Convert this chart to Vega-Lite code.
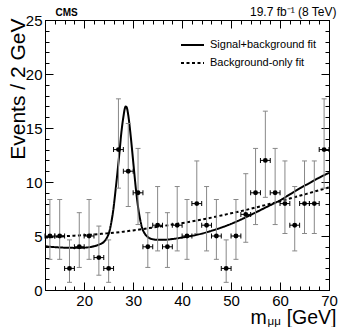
{
  "$schema": "https://vega.github.io/schema/vega-lite/v6.json",
  "width": 284,
  "height": 270,
  "autosize": {"type": "none"},
  "padding": {"left": 45, "top": 20, "right": 9, "bottom": 37},
  "config": {
    "view": {"stroke": "black", "strokeWidth": 1},
    "font": "Liberation Sans",
    "axis": {"grid": false, "domain": false, "tickColor": "black", "tickWidth": 1, "labelColor": "black", "titleColor": "black", "labelFlush": false, "titleFontWeight": "normal", "titleBaseline": "alphabetic"}
  },
  "datasets": {
    "points": [
      {"x": 13, "n": 5, "lo": 2.84, "hi": 8.38, "xlo": 12, "xhi": 14},
      {"x": 15, "n": 5, "lo": 2.84, "hi": 8.38, "xlo": 14, "xhi": 16},
      {"x": 17, "n": 2, "lo": 0.71, "hi": 4.64, "xlo": 16, "xhi": 18},
      {"x": 19, "n": 4, "lo": 2.09, "hi": 7.16, "xlo": 18, "xhi": 20},
      {"x": 21, "n": 5, "lo": 2.84, "hi": 8.38, "xlo": 20, "xhi": 22},
      {"x": 23, "n": 3, "lo": 1.37, "hi": 5.92, "xlo": 22, "xhi": 24},
      {"x": 25, "n": 2, "lo": 0.71, "hi": 4.64, "xlo": 24, "xhi": 26},
      {"x": 27, "n": 13, "lo": 9.43, "hi": 17.7, "xlo": 26, "xhi": 28},
      {"x": 29, "n": 11, "lo": 7.73, "hi": 15.42, "xlo": 28, "xhi": 30},
      {"x": 31, "n": 9, "lo": 6.06, "hi": 13.11, "xlo": 30, "xhi": 32},
      {"x": 33, "n": 4, "lo": 2.09, "hi": 7.16, "xlo": 32, "xhi": 34},
      {"x": 35, "n": 6, "lo": 3.62, "hi": 9.58, "xlo": 34, "xhi": 36},
      {"x": 37, "n": 4, "lo": 2.09, "hi": 7.16, "xlo": 36, "xhi": 38},
      {"x": 39, "n": 6, "lo": 3.62, "hi": 9.58, "xlo": 38, "xhi": 40},
      {"x": 41, "n": 5, "lo": 2.84, "hi": 8.38, "xlo": 40, "xhi": 42},
      {"x": 43, "n": 8, "lo": 5.23, "hi": 11.95, "xlo": 42, "xhi": 44},
      {"x": 45, "n": 6, "lo": 3.62, "hi": 9.58, "xlo": 44, "xhi": 46},
      {"x": 47, "n": 5, "lo": 2.84, "hi": 8.38, "xlo": 46, "xhi": 48},
      {"x": 49, "n": 2, "lo": 0.71, "hi": 4.64, "xlo": 48, "xhi": 50},
      {"x": 51, "n": 5, "lo": 2.84, "hi": 8.38, "xlo": 50, "xhi": 52},
      {"x": 53, "n": 7, "lo": 4.42, "hi": 10.77, "xlo": 52, "xhi": 54},
      {"x": 55, "n": 9, "lo": 6.06, "hi": 13.11, "xlo": 54, "xhi": 56},
      {"x": 57, "n": 12, "lo": 8.58, "hi": 16.56, "xlo": 56, "xhi": 58},
      {"x": 59, "n": 9, "lo": 6.06, "hi": 13.11, "xlo": 58, "xhi": 60},
      {"x": 61, "n": 8, "lo": 5.23, "hi": 11.95, "xlo": 60, "xhi": 62},
      {"x": 63, "n": 6, "lo": 3.62, "hi": 9.58, "xlo": 62, "xhi": 64},
      {"x": 65, "n": 8, "lo": 5.23, "hi": 11.95, "xlo": 64, "xhi": 66},
      {"x": 67, "n": 8, "lo": 5.23, "hi": 11.95, "xlo": 66, "xhi": 68},
      {"x": 69, "n": 13, "lo": 9.43, "hi": 17.7, "xlo": 68, "xhi": 70}
    ],
    "curves": [
      {"fit": "Signal+background fit", "x": 12, "y": 4.05},
      {"fit": "Signal+background fit", "x": 14, "y": 3.97},
      {"fit": "Signal+background fit", "x": 16, "y": 3.92},
      {"fit": "Signal+background fit", "x": 18, "y": 3.9},
      {"fit": "Signal+background fit", "x": 20, "y": 3.92},
      {"fit": "Signal+background fit", "x": 22, "y": 4.05},
      {"fit": "Signal+background fit", "x": 23, "y": 4.2},
      {"fit": "Signal+background fit", "x": 24, "y": 4.45},
      {"fit": "Signal+background fit", "x": 24.6, "y": 4.8},
      {"fit": "Signal+background fit", "x": 25.2, "y": 5.5},
      {"fit": "Signal+background fit", "x": 25.6, "y": 6.4},
      {"fit": "Signal+background fit", "x": 26.0, "y": 7.6},
      {"fit": "Signal+background fit", "x": 26.4, "y": 9.2},
      {"fit": "Signal+background fit", "x": 26.8, "y": 10.9},
      {"fit": "Signal+background fit", "x": 27.2, "y": 12.7},
      {"fit": "Signal+background fit", "x": 27.6, "y": 14.6},
      {"fit": "Signal+background fit", "x": 28.0, "y": 16.0},
      {"fit": "Signal+background fit", "x": 28.3, "y": 16.8},
      {"fit": "Signal+background fit", "x": 28.5, "y": 17.0},
      {"fit": "Signal+background fit", "x": 28.7, "y": 16.9},
      {"fit": "Signal+background fit", "x": 29.0, "y": 16.2},
      {"fit": "Signal+background fit", "x": 29.4, "y": 14.7},
      {"fit": "Signal+background fit", "x": 29.8, "y": 12.9},
      {"fit": "Signal+background fit", "x": 30.2, "y": 11.0},
      {"fit": "Signal+background fit", "x": 30.6, "y": 9.2},
      {"fit": "Signal+background fit", "x": 31.0, "y": 7.7},
      {"fit": "Signal+background fit", "x": 31.4, "y": 6.6},
      {"fit": "Signal+background fit", "x": 31.8, "y": 5.8},
      {"fit": "Signal+background fit", "x": 32.4, "y": 5.2},
      {"fit": "Signal+background fit", "x": 33, "y": 4.9},
      {"fit": "Signal+background fit", "x": 34, "y": 4.7},
      {"fit": "Signal+background fit", "x": 35, "y": 4.65},
      {"fit": "Signal+background fit", "x": 36, "y": 4.65},
      {"fit": "Signal+background fit", "x": 37, "y": 4.67},
      {"fit": "Signal+background fit", "x": 38, "y": 4.72},
      {"fit": "Signal+background fit", "x": 40, "y": 4.86},
      {"fit": "Signal+background fit", "x": 42, "y": 5.02},
      {"fit": "Signal+background fit", "x": 44, "y": 5.22},
      {"fit": "Signal+background fit", "x": 46, "y": 5.48},
      {"fit": "Signal+background fit", "x": 48, "y": 5.78},
      {"fit": "Signal+background fit", "x": 50, "y": 6.12},
      {"fit": "Signal+background fit", "x": 52, "y": 6.52},
      {"fit": "Signal+background fit", "x": 54, "y": 6.95},
      {"fit": "Signal+background fit", "x": 56, "y": 7.4},
      {"fit": "Signal+background fit", "x": 58, "y": 7.85},
      {"fit": "Signal+background fit", "x": 60, "y": 8.3},
      {"fit": "Signal+background fit", "x": 62, "y": 8.85},
      {"fit": "Signal+background fit", "x": 64, "y": 9.4},
      {"fit": "Signal+background fit", "x": 66, "y": 9.9},
      {"fit": "Signal+background fit", "x": 68, "y": 10.4},
      {"fit": "Signal+background fit", "x": 70, "y": 10.85},
      {"fit": "Background-only fit", "x": 12, "y": 4.85},
      {"fit": "Background-only fit", "x": 14, "y": 4.92},
      {"fit": "Background-only fit", "x": 16, "y": 4.98},
      {"fit": "Background-only fit", "x": 18, "y": 5.03},
      {"fit": "Background-only fit", "x": 20, "y": 5.08},
      {"fit": "Background-only fit", "x": 22, "y": 5.14},
      {"fit": "Background-only fit", "x": 24, "y": 5.22},
      {"fit": "Background-only fit", "x": 26, "y": 5.3},
      {"fit": "Background-only fit", "x": 28, "y": 5.4},
      {"fit": "Background-only fit", "x": 30, "y": 5.52},
      {"fit": "Background-only fit", "x": 32, "y": 5.64},
      {"fit": "Background-only fit", "x": 34, "y": 5.78},
      {"fit": "Background-only fit", "x": 36, "y": 5.92},
      {"fit": "Background-only fit", "x": 38, "y": 6.06},
      {"fit": "Background-only fit", "x": 40, "y": 6.2},
      {"fit": "Background-only fit", "x": 42, "y": 6.35},
      {"fit": "Background-only fit", "x": 44, "y": 6.52},
      {"fit": "Background-only fit", "x": 46, "y": 6.7},
      {"fit": "Background-only fit", "x": 48, "y": 6.9},
      {"fit": "Background-only fit", "x": 50, "y": 7.1},
      {"fit": "Background-only fit", "x": 52, "y": 7.3},
      {"fit": "Background-only fit", "x": 54, "y": 7.52},
      {"fit": "Background-only fit", "x": 56, "y": 7.75},
      {"fit": "Background-only fit", "x": 58, "y": 7.98},
      {"fit": "Background-only fit", "x": 60, "y": 8.22},
      {"fit": "Background-only fit", "x": 62, "y": 8.47},
      {"fit": "Background-only fit", "x": 64, "y": 8.72},
      {"fit": "Background-only fit", "x": 66, "y": 8.98},
      {"fit": "Background-only fit", "x": 68, "y": 9.24},
      {"fit": "Background-only fit", "x": 70, "y": 9.5}
    ]
  },
  "layer": [
    {
      "data": {"name": "curves"},
      "mark": {"type": "line", "color": "black", "strokeWidth": 2, "interpolate": "monotone"},
      "encoding": {
        "x": {"field": "x", "type": "quantitative", "scale": {"domain": [12, 70], "nice": false, "zero": false},
          "axis": {"orient": "bottom", "values": [20, 30, 40, 50, 60, 70], "ticks": false, "labelFontSize": 15, "labelPadding": 3,
            "title": "[GeV]", "titleFontSize": 19.5, "titleAlign": "right", "titleX": 291, "titleY": 33.5}},
        "y": {"field": "y", "type": "quantitative", "scale": {"domain": [0, 25], "nice": false, "zero": true},
          "axis": {"orient": "left", "values": [0, 5, 10, 15, 20, 25], "ticks": false, "labelFontSize": 15, "labelPadding": 3,
            "title": "Events / 2 GeV", "titleFontSize": 21, "titleAngle": -90, "titleAlign": "right", "titleX": -21, "titleY": -2}},
        "strokeDash": {"field": "fit", "type": "nominal",
          "scale": {"domain": ["Signal+background fit", "Background-only fit"], "range": [[1, 0], [3, 2.5]]},
          "legend": {"orient": "none", "legendX": 135, "legendY": 19, "title": null, "symbolType": "stroke", "symbolSize": 529, "symbolStrokeWidth": 2, "symbolStrokeColor": "black", "clipHeight": 12, "rowPadding": 6, "labelFontSize": 11, "labelOffset": 5, "labelColor": "black", "labelLimit": 200}}
      }
    },
    {
      "data": {"name": "points"},
      "mark": {"type": "rule", "color": "#888", "strokeWidth": 1},
      "encoding": {
        "x": {"field": "x", "type": "quantitative", "axis": {"orient": "bottom", "values": [20, 30, 40, 50, 60, 70], "ticks": true, "tickSize": -8, "labels": false,
          "title": "m", "titleFontSize": 19.5, "titleAlign": "left", "titleX": 205, "titleY": 33.5}},
        "y": {"field": "lo", "type": "quantitative", "axis": {"orient": "left", "values": [0, 5, 10, 15, 20, 25], "ticks": true, "tickSize": -8, "labels": false, "title": null}},
        "y2": {"field": "hi"}
      }
    },
    {
      "data": {"name": "points"},
      "mark": {"type": "tick", "orient": "horizontal", "color": "#888", "size": 5, "thickness": 1, "opacity": 1},
      "encoding": {
        "x": {"field": "x", "type": "quantitative", "axis": {"orient": "bottom", "values": [12, 14, 16, 18, 20, 22, 24, 26, 28, 30, 32, 34, 36, 38, 40, 42, 44, 46, 48, 50, 52, 54, 56, 58, 60, 62, 64, 66, 68, 70], "ticks": true, "tickSize": -4, "labels": false,
          "title": "μμ", "titleFontSize": 11.5, "titleAlign": "left", "titleX": 222, "titleY": 34.5}},
        "y": {"field": "hi", "type": "quantitative", "axis": {"orient": "left", "values": [0, 1, 2, 3, 4, 5, 6, 7, 8, 9, 10, 11, 12, 13, 14, 15, 16, 17, 18, 19, 20, 21, 22, 23, 24, 25], "ticks": true, "tickSize": -4, "labels": false, "title": null}}
      }
    },
    {
      "data": {"name": "points"},
      "mark": {"type": "tick", "orient": "horizontal", "color": "#888", "size": 5, "thickness": 1, "opacity": 1},
      "encoding": {
        "x": {"field": "x", "type": "quantitative", "axis": {"orient": "top", "values": [20, 30, 40, 50, 60, 70], "ticks": true, "tickSize": -8, "labels": false,
          "title": "CMS", "titleFontSize": 10, "titleFontWeight": "bold", "titleAlign": "left", "titleX": 10, "titleY": -5}},
        "y": {"field": "lo", "type": "quantitative", "axis": {"orient": "right", "values": [0, 5, 10, 15, 20, 25], "ticks": true, "tickSize": -8, "labels": false, "title": null}}
      }
    },
    {
      "data": {"name": "points"},
      "mark": {"type": "rule", "color": "black", "strokeWidth": 1},
      "encoding": {
        "x": {"field": "xlo", "type": "quantitative", "axis": {"orient": "top", "values": [12, 14, 16, 18, 20, 22, 24, 26, 28, 30, 32, 34, 36, 38, 40, 42, 44, 46, 48, 50, 52, 54, 56, 58, 60, 62, 64, 66, 68, 70], "ticks": true, "tickSize": -4, "labels": false,
          "title": "19.7 fb⁻¹ (8 TeV)", "titleFontSize": 12, "titleAlign": "right", "titleX": 291, "titleY": -5}},
        "x2": {"field": "xhi"},
        "y": {"field": "n", "type": "quantitative", "axis": {"orient": "right", "values": [0, 1, 2, 3, 4, 5, 6, 7, 8, 9, 10, 11, 12, 13, 14, 15, 16, 17, 18, 19, 20, 21, 22, 23, 24, 25], "ticks": true, "tickSize": -4, "labels": false, "title": null}}
      }
    },
    {
      "data": {"name": "points"},
      "mark": {"type": "tick", "orient": "vertical", "color": "black", "size": 5, "thickness": 1, "opacity": 1},
      "encoding": {
        "x": {"field": "xlo", "type": "quantitative", "axis": null},
        "y": {"field": "n", "type": "quantitative", "axis": null}
      }
    },
    {
      "data": {"name": "points"},
      "mark": {"type": "tick", "orient": "vertical", "color": "black", "size": 5, "thickness": 1, "opacity": 1},
      "encoding": {
        "x": {"field": "xhi", "type": "quantitative", "axis": null},
        "y": {"field": "n", "type": "quantitative", "axis": null}
      }
    },
    {
      "data": {"name": "points"},
      "mark": {"type": "circle", "color": "black", "size": 24, "opacity": 1},
      "encoding": {
        "x": {"field": "x", "type": "quantitative", "axis": null},
        "y": {"field": "n", "type": "quantitative", "axis": null}
      }
    },
    {
      "mark": {"type": "text", "text": "SR1", "font": "Liberation Sans", "fontWeight": "bold", "fontSize": 12.5, "align": "left", "baseline": "middle", "color": "black"},
      "encoding": {"x": {"datum": 20.17, "type": "quantitative", "axis": null}, "y": {"datum": 22.4, "type": "quantitative", "axis": null}}
    }
  ],
  "resolve": {"axis": {"x": "independent", "y": "independent"}}
}
